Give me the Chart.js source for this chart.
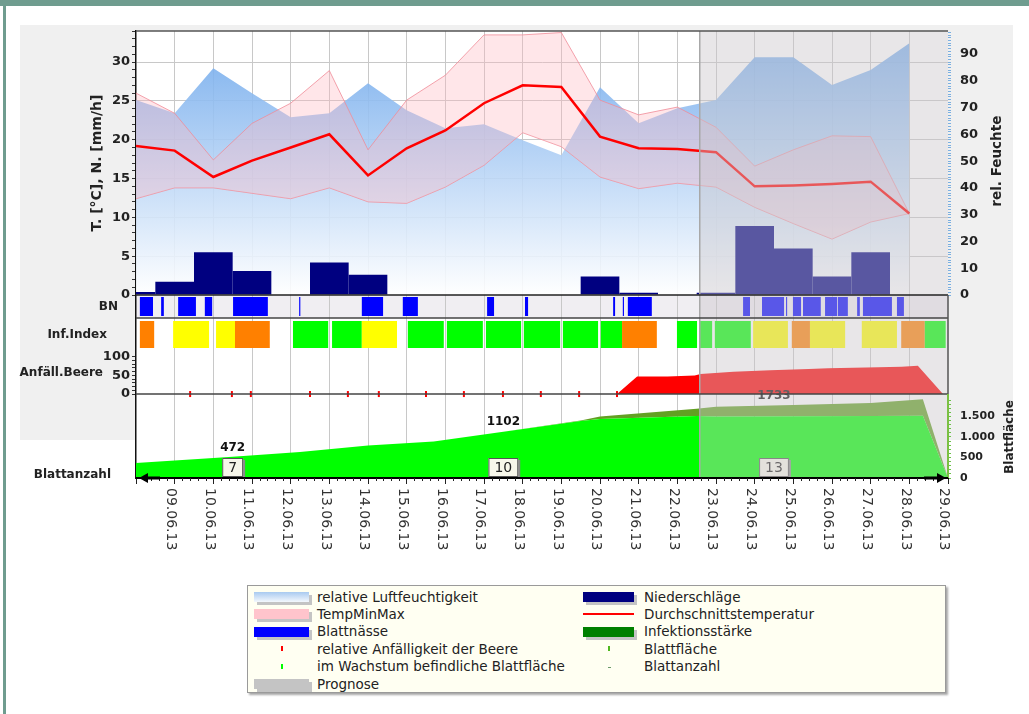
<!DOCTYPE html>
<html lang="de">
<head>
<meta charset="utf-8">
<title>Blattentwicklung Juni 2013</title>
<script src="https://cdn.jsdelivr.net/npm/chart.js@4.4.1/dist/chart.umd.min.js"></script>
<style>
  html, body { margin: 0; padding: 0; background: #fff; }
  body { width: 1029px; height: 714px; position: relative; overflow: hidden; font-family: "DejaVu Sans", sans-serif; }
  .frame-top { position: absolute; left: 0; top: 0; width: 1029px; height: 6px; background: #6f9c8f; }
  .frame-left { position: absolute; left: 3px; top: 0; width: 3px; height: 714px; background: #6f9c8f; }
  .panel { position: absolute; left: 20px; top: 25px; width: 993px; height: 415px; background: #f0f0f0; }
  #wrap { position: absolute; left: 0; top: 0; width: 1029px; height: 580px; }
  #legend { position: absolute; left: 247px; top: 585px; width: 697px; height: 106px; background: #fffff2;
            border: 1px solid #9a9a9a; box-shadow: 2px 2px 2px rgba(0,0,0,0.35); }
  .sw { position: absolute; height: 10px; box-shadow: 3px 3px 0 #c4c4c4; }
  .tx { position: absolute; font-size: 13.5px; line-height: 17px; color: #222; white-space: nowrap; }
</style>
</head>
<body>
<div class="frame-top"></div>
<div class="frame-left"></div>
<div class="panel"></div>
<div id="wrap"><canvas id="chart" width="1029" height="580"></canvas></div>
<div id="legend"></div>
<script>
// Tage: x = 0 ist der 08.06., Beschriftungen ab x = 1
const dateLabels = ['09.06.13', '10.06.13', '11.06.13', '12.06.13', '13.06.13', '14.06.13', '15.06.13',
  '16.06.13', '17.06.13', '18.06.13', '19.06.13', '20.06.13', '21.06.13', '22.06.13', '23.06.13',
  '24.06.13', '25.06.13', '26.06.13', '27.06.13', '28.06.13', '29.06.13'];

// Temperatur [°C]
const tempAvg = [19.2, 18.6, 15.2, 17.3, 19.0, 20.7, 15.4, 18.9, 21.2, 24.7, 27.0, 26.8, 20.4, 18.9, 18.8, 18.4, 14.0, 14.1, 14.3, 14.6, 10.5];
const tempMax = [26.0, 23.4, 17.4, 22.1, 24.7, 28.9, 18.7, 25.1, 28.3, 33.5, 33.5, 33.8, 25.1, 23.2, 24.2, 21.6, 16.6, 18.7, 20.5, 20.4, 10.5];
const tempMin = [12.4, 13.8, 13.8, 13.1, 12.4, 13.8, 12.0, 11.8, 13.9, 16.7, 20.9, 19.1, 15.2, 13.7, 14.4, 13.9, 11.3, 9.2, 7.2, 9.4, 10.5];
// relative Luftfeuchtigkeit [%]
const humidity = [72.8, 67.9, 84.7, 75.4, 66.4, 67.9, 79.1, 69.0, 62.3, 63.8, 57.8, 52.2, 77.6, 64.2, 69.8, 72.8, 88.8, 88.8, 78.4, 84.0, 94.0];
// Niederschlag [mm/h]
const rain = [0.4, 1.7, 5.5, 3.1, 0, 4.2, 2.6, 0, 0, 0, 0, 0, 2.4, 0.3, 0, 0.3, 8.9, 6.0, 2.4, 5.5, 0];

// Blattnässe (Zeiträume in Tagen)
const bnStart = [0.10, 0.65, 1.09, 1.78, 2.51, 4.22, 5.84, 6.90, 9.08, 10.06, 12.34, 12.59, 12.72, 15.70, 16.19, 16.81, 16.99, 17.25, 17.82, 18.15, 18.65, 18.80, 19.68];
const bnEnd   = [0.44, 0.72, 1.55, 1.97, 3.41, 4.25, 6.39, 7.29, 9.26, 10.14, 12.39, 12.62, 13.34, 15.88, 16.76, 16.84, 17.20, 17.71, 18.13, 18.41, 18.72, 19.55, 19.86];

// Infektionsindex (0 = gering, 1 = mittel, 2 = hoch)
const infStart = [0.10, 0.96, 2.07, 2.56, 4.06, 5.07, 5.84, 7.03, 8.04, 9.05, 10.03, 11.04, 12.02, 12.57, 13.99, 14.56, 14.97, 15.96, 16.96, 17.43, 18.77, 19.79, 20.40];
const infEnd   = [0.47, 1.89, 2.56, 3.46, 4.97, 5.84, 6.75, 7.96, 8.97, 9.96, 10.97, 11.95, 12.57, 13.47, 14.51, 14.90, 15.90, 16.86, 17.43, 18.34, 19.68, 20.40, 20.94];
const infLevel = [2, 1, 1, 2, 0, 0, 1, 0, 0, 0, 0, 0, 0, 2, 0, 0, 0, 1, 2, 1, 1, 2, 0];

// Anfälligkeit der Beere [%]
const anfDays   = [12.44, 12.96, 13.75, 14.45, 14.60, 15.45, 16.40, 17.40, 17.90, 19.20, 19.80, 20.22, 20.87];
const anfValues = [0, 47, 47, 50, 54, 60, 64, 67, 69, 72, 73, 76, 0];
const anfMarkDays = [1.40, 2.48, 2.97, 4.50, 5.48, 6.28, 7.50, 8.48, 9.49, 10.47, 11.46, 12.44];

// Blattfläche [cm²]
const leafDays = [0, 2.5, 4.24, 6.0, 7.7, 9.5, 11.5, 12.0, 14.5, 15.0, 17.0, 19.0, 20.35, 21.0];
const leafArea = [366, 520, 634, 795, 893, 1130, 1390, 1440, 1510, 1500, 1505, 1510, 1520, 0];
const leafTop  = [366, 520, 634, 795, 893, 1130, 1400, 1500, 1690, 1735, 1780, 1830, 1920, 0];

// Blattanzahl und Blattfläche je Woche
const leafLabelDays = [2.5, 9.5, 16.5];
const leafLabelValues = [472, 1102, 1733];
const leafCounts = [7, 10, 13];

const forecastStart = 14.58;

const days = tempAvg.map((_, i) => i);
const xy = (xs, ys) => ys.map((v, i) => ({ x: xs[i], y: v }));
const infColors = ['#00ff00', '#ffff00', '#ff8000'];
const FONT = '"DejaVu Sans", sans-serif';

Chart.defaults.font.family = FONT;
Chart.defaults.animation = false;

function range(a, b, step) {
  const out = [];
  for (let v = a; v <= b + 1e-9; v += step) out.push(Math.round(v * 100) / 100);
  return out;
}
function deNum(v) {
  return v >= 1000 ? Math.floor(v / 1000) + '.' + String(v % 1000).padStart(3, '0') : String(v);
}

const decor = {
  id: 'decor',
  // die schmalen Achsen (Anfälligkeit, Blattfläche) teilen sich den Platz mit den Hauptachsen
  afterLayout(chart) {
    const s = chart.scales;
    s.yA.left = s.yT.left;
    s.yA.width = s.yA.right - s.yA.left;
    s.yB.right = s.yH.right;
    s.yB.width = s.yB.right - s.yB.left;
  },
  beforeDraw(chart) {
    const { ctx, chartArea: a, scales } = chart;
    ctx.save();
    ctx.fillStyle = '#ffffff';
    ctx.fillRect(a.left, a.top, a.right - a.left, a.bottom - a.top);
    const y0 = scales.yT.getPixelForValue(0);
    const rowBottom = scales.yR.getPixelForValue(2) + 11.5;
    ctx.fillStyle = '#f0eef2';
    ctx.fillRect(a.left, y0, a.right - a.left, rowBottom - y0);
    ctx.restore();
  },
  afterDatasetsDraw(chart) {
    const { ctx, chartArea: a, scales } = chart;
    const x = scales.x, yB = scales.yB;
    ctx.save();
    // Blattfläche / Blattanzahl
    ctx.textAlign = 'center';
    ctx.textBaseline = 'middle';
    leafLabelDays.forEach((d, i) => {
      const px = x.getPixelForValue(d);
      ctx.font = 'bold 12px ' + FONT;
      ctx.fillStyle = '#111';
      ctx.fillText(String(leafLabelValues[i]), px, yB.getPixelForValue(leafLabelValues[i]) - 11);
      ctx.font = '14px ' + FONT;
      const w = ctx.measureText(String(leafCounts[i])).width + 12;
      const top = yB.getPixelForValue(0) - 20;
      ctx.fillStyle = '#8a8a8a';
      ctx.fillRect(px - w / 2 + 2, top + 2, w, 19);
      ctx.fillStyle = '#f7f7ea';
      ctx.fillRect(px - w / 2, top, w, 19);
      ctx.strokeStyle = '#555';
      ctx.lineWidth = 1;
      ctx.strokeRect(px - w / 2 + 0.5, top + 0.5, w - 1, 18);
      ctx.fillStyle = '#222';
      ctx.fillText(String(leafCounts[i]), px, top + 10);
    });
    // Prognose
    const xf = x.getPixelForValue(forecastStart);
    ctx.fillStyle = 'rgba(203,199,203,0.44)';
    ctx.fillRect(xf, a.top, a.right - xf, a.bottom - a.top);
    ctx.strokeStyle = '#a8a8a8';
    ctx.lineWidth = 1.5;
    ctx.beginPath(); ctx.moveTo(xf, a.top); ctx.lineTo(xf, a.bottom); ctx.stroke();
    // Trennlinien
    const hline = (y, color, w) => {
      ctx.strokeStyle = color; ctx.lineWidth = w;
      ctx.beginPath(); ctx.moveTo(a.left, y); ctx.lineTo(a.right, y); ctx.stroke();
    };
    const y0 = scales.yT.getPixelForValue(0);
    const rowBottom = scales.yR.getPixelForValue(2) + 11.5;
    const ya0 = scales.yA.getPixelForValue(0);
    hline(a.top, '#555', 1.5);
    hline(y0, '#222', 1.5);
    hline(rowBottom, '#444', 1.5);
    hline(ya0, '#444', 1.5);
    ctx.strokeStyle = '#555'; ctx.lineWidth = 1.5;
    ctx.beginPath(); ctx.moveTo(a.right, y0); ctx.lineTo(a.right, ya0); ctx.stroke();
    ctx.strokeStyle = '#7bc043'; ctx.lineWidth = 2;
    ctx.beginPath(); ctx.moveTo(a.right, ya0); ctx.lineTo(a.right, a.bottom); ctx.stroke();
    hline(a.bottom, '#000', 2);
    ctx.restore();
  },
  afterDraw(chart) {
    const { ctx, chartArea: a, scales } = chart;
    const x = scales.x;
    ctx.save();
    // Zwischenstriche auf der Zeitachse
    ctx.strokeStyle = '#222'; ctx.lineWidth = 1;
    range(0, 21, 0.2).forEach(v => {
      if (Math.abs(v - Math.round(v)) < 1e-6) return;
      const px = Math.round(x.getPixelForValue(v)) + 0.5;
      ctx.beginPath(); ctx.moveTo(px, a.bottom); ctx.lineTo(px, a.bottom + 3); ctx.stroke();
    });
    // Pfeile
    ctx.fillStyle = '#000';
    const yb = a.bottom;
    ctx.fillRect(a.left + 10, yb - 1.5, 14, 3);
    ctx.beginPath(); ctx.moveTo(a.left + 3, yb); ctx.lineTo(a.left + 12, yb - 5); ctx.lineTo(a.left + 12, yb + 5); ctx.closePath(); ctx.fill();
    ctx.fillRect(a.right - 24, yb - 1.5, 14, 3);
    ctx.beginPath(); ctx.moveTo(a.right - 2, yb); ctx.lineTo(a.right - 11, yb - 5); ctx.lineTo(a.right - 11, yb + 5); ctx.closePath(); ctx.fill();
    // Datumsbeschriftung
    ctx.font = '14px ' + FONT;
    ctx.fillStyle = '#333';
    ctx.textAlign = 'left';
    ctx.textBaseline = 'middle';
    dateLabels.forEach((lab, i) => {
      ctx.save();
      ctx.translate(x.getPixelForValue(i + 1) - 4, a.bottom + 10);
      ctx.rotate(Math.PI / 2);
      ctx.fillText(lab, 0, 0);
      ctx.restore();
    });
    // Achsentitel
    const vtext = (txt, px, py, font) => {
      ctx.save();
      ctx.translate(px, py); ctx.rotate(-Math.PI / 2);
      ctx.font = font; ctx.fillStyle = '#222'; ctx.textAlign = 'center'; ctx.textBaseline = 'middle';
      ctx.fillText(txt, 0, 0);
      ctx.restore();
    };
    vtext('T. [°C], N. [mm/h]', scales.yT.left + 7, scales.yT.getPixelForValue(17), 'bold 14px ' + FONT);
    vtext('rel. Feuchte', a.right + 49, scales.yH.getPixelForValue(50), 'bold 13.5px ' + FONT);
    vtext('Blattfläche', a.right + 62, scales.yB.getPixelForValue(1000), 'bold 12px ' + FONT);
    // Zeilenbeschriftung
    ctx.font = 'bold 12px ' + FONT;
    ctx.fillStyle = '#222';
    ctx.textAlign = 'right';
    ctx.textBaseline = 'middle';
    ctx.fillText('BN', a.left - 18, scales.yR.getPixelForValue(2));
    ctx.fillText('Inf.Index', a.left - 29, scales.yR.getPixelForValue(1));
    ctx.fillText('Anfäll.Beere', a.left - 33, scales.yA.getPixelForValue(58));
    ctx.fillText('Blattanzahl', a.left - 25, scales.yB.getPixelForValue(0) - 3);
    ctx.restore();
  }
};

const tickFont = { size: 13, weight: 'bold', family: FONT };
const hidden = c => 'rgba(0,0,0,0)';

new Chart(document.getElementById('chart'), {
  type: 'line',
  data: {
    datasets: [
      {
        label: 'Durchschnittstemperatur', data: xy(days, tempAvg), yAxisID: 'yT',
        borderColor: '#ff0000', borderWidth: 2.5, pointRadius: 0, fill: false, tension: 0
      },
      {
        type: 'bar', label: 'Niederschläge', data: xy(days, rain), yAxisID: 'yT',
        backgroundColor: '#000080', categoryPercentage: 1, barPercentage: 1, grouped: false, inflateAmount: 0
      },
      {
        label: 'TempMinMax', data: xy(days, tempMax), yAxisID: 'yT',
        borderColor: 'rgba(240,140,152,0.8)', borderWidth: 1, pointRadius: 0,
        fill: '+1', backgroundColor: 'rgba(255,182,193,0.35)'
      },
      {
        label: 'TempMin', data: xy(days, tempMin), yAxisID: 'yT',
        borderColor: 'rgba(240,140,152,0.8)', borderWidth: 1, pointRadius: 0, fill: false
      },
      {
        label: 'relative Luftfeuchtigkeit', data: xy(days, humidity), yAxisID: 'yH',
        borderWidth: 0, pointRadius: 0, fill: 'origin',
        backgroundColor: (c) => {
          const ch = c.chart, a = ch.chartArea;
          if (!a) return 'rgba(170,200,240,0.85)';
          const g = ch.ctx.createLinearGradient(0, a.top, 0, ch.scales.yH.getPixelForValue(0));
          g.addColorStop(0, 'rgba(105,165,235,0.9)');
          g.addColorStop(1, 'rgba(255,255,255,0.9)');
          return g;
        }
      },
      {
        type: 'bar', label: 'Blattnässe', indexAxis: 'y', xAxisID: 'x2', yAxisID: 'yR',
        data: bnStart.map((s, i) => ({ x: [s, bnEnd[i]], y: 2 })),
        backgroundColor: '#0000ff', barThickness: 19, grouped: false, inflateAmount: 0
      },
      {
        type: 'bar', label: 'Inf.Index', indexAxis: 'y', xAxisID: 'x2', yAxisID: 'yR',
        data: infStart.map((s, i) => ({ x: [s, infEnd[i]], y: 1 })),
        backgroundColor: infLevel.map(l => infColors[l]), barThickness: 27, grouped: false, inflateAmount: 0
      },
      {
        label: 'relative Anfälligkeit der Beere', data: anfMarkDays.map(d => ({ x: d, y: 0 })), yAxisID: 'yA',
        showLine: false, pointStyle: 'line', rotation: 90, pointRadius: 3, borderColor: '#ff0000', borderWidth: 2
      },
      {
        label: 'Anfälligkeit', data: xy(anfDays, anfValues), yAxisID: 'yA',
        fill: 'origin', backgroundColor: '#ff0000', borderWidth: 0, pointRadius: 0
      },
      {
        label: 'Blattfläche', data: xy(leafDays, leafArea), yAxisID: 'yB',
        fill: 'origin', backgroundColor: '#00ff00', borderWidth: 0, pointRadius: 0
      },
      {
        label: 'Infektionsstärke', data: xy(leafDays, leafTop), yAxisID: 'yB',
        fill: '-1', backgroundColor: '#62a022', borderWidth: 0, pointRadius: 0
      }
    ]
  },
  options: {
    responsive: false,
    layout: { padding: { left: 90, top: 31, right: 0, bottom: 0 } },
    plugins: { legend: { display: false }, tooltip: { enabled: false } },
    scales: {
      x: {
        type: 'linear', position: 'bottom', min: 0, max: 21, offset: false,
        afterBuildTicks: s => { s.ticks = range(0, 21, 1).map(v => ({ value: v })); },
        afterFit: s => { s.height = 102; },
        ticks: { display: false, autoSkip: false },
        grid: {
          offset: false, tickLength: 6, tickColor: '#222',
          color: c => (c.tick && c.tick.value >= 1 && c.tick.value <= 20) ? '#c8c8c8' : 'rgba(0,0,0,0)'
        },
        border: { color: '#000', width: 2 }
      },
      x2: { type: 'linear', position: 'bottom', display: false, min: 0, max: 21, offset: false, grid: { offset: false } },
      yT: {
        type: 'linear', position: 'left', weight: 1, min: -23.56, max: 34,
        afterBuildTicks: s => { s.ticks = range(0, 34, 1).map(v => ({ value: v })); },
        afterFit: s => { s.width = 46; },
        ticks: { autoSkip: false, padding: 2, color: '#222', font: tickFont, callback: v => v % 5 === 0 ? v : '' },
        grid: {
          tickLength: 4, tickColor: '#333',
          color: c => (c.tick && c.tick.value > 0 && c.tick.value % 5 === 0) ? '#c8c8c8' : 'rgba(0,0,0,0)'
        },
        border: { display: true, color: '#111', width: 1.5 }
      },
      yA: {
        type: 'linear', position: 'left', weight: 0, min: -225, max: 973,
        afterBuildTicks: s => { s.ticks = range(0, 100, 10).map(v => ({ value: v })); },
        afterFit: s => { s.width = 0; },
        ticks: { autoSkip: false, padding: 2, color: '#222', font: tickFont, callback: v => v % 50 === 0 ? v : '' },
        grid: { drawOnChartArea: false, tickLength: 4, tickColor: '#333', color: hidden },
        border: { display: false }
      },
      yH: {
        type: 'linear', position: 'right', weight: 1, min: -68.3, max: 98.6,
        afterBuildTicks: s => { s.ticks = range(0, 98, 1).map(v => ({ value: v })); },
        afterFit: s => { s.width = 81; },
        ticks: { autoSkip: false, padding: 9, color: '#222', font: tickFont, callback: v => v % 10 === 0 ? v : '' },
        grid: { drawOnChartArea: false, tickLength: 3, tickColor: '#7aaee0', color: hidden },
        border: { display: false }
      },
      yB: {
        type: 'linear', position: 'right', weight: 0, min: 0, max: 10900,
        afterBuildTicks: s => { s.ticks = range(0, 1900, 100).map(v => ({ value: v })); },
        afterFit: s => { s.width = 0; },
        ticks: {
          autoSkip: false, padding: 9, color: '#222', font: { size: 11, weight: 'bold', family: FONT },
          callback: v => v % 500 === 0 ? deNum(v) : ''
        },
        grid: { drawOnChartArea: false, tickLength: 3, tickColor: '#6cc04a', color: hidden },
        border: { display: false }
      },
      yR: { type: 'linear', display: false, min: -4.125, max: 11.839, offset: false, grid: { offset: false } }
    }
  },
  plugins: [decor]
});

// Legende
const legendItems = [
  { col: 0, row: 0, label: 'relative Luftfeuchtigkeit', kind: 'box', color: 'linear-gradient(#a9caf0, #f4f8fd)' },
  { col: 0, row: 1, label: 'TempMinMax', kind: 'box', color: '#ffc4cc' },
  { col: 0, row: 2, label: 'Blattnässe', kind: 'box', color: '#0000ff' },
  { col: 0, row: 3, label: 'relative Anfälligkeit der Beere', kind: 'tick', color: '#ff0000' },
  { col: 0, row: 4, label: 'im Wachstum befindliche Blattfläche', kind: 'tick', color: '#00ff00' },
  { col: 0, row: 5, label: 'Prognose', kind: 'box', color: '#c4c4c4' },
  { col: 1, row: 0, label: 'Niederschläge', kind: 'box', color: '#000080' },
  { col: 1, row: 1, label: 'Durchschnittstemperatur', kind: 'line', color: '#ff0000' },
  { col: 1, row: 2, label: 'Infektionsstärke', kind: 'box', color: '#008000' },
  { col: 1, row: 3, label: 'Blattfläche', kind: 'tick', color: '#4fb820' },
  { col: 1, row: 4, label: 'Blattanzahl', kind: 'dot', color: '#6a9a6a' }
];
const legend = document.getElementById('legend');
legendItems.forEach(it => {
  const swLeft = it.col === 0 ? 6 : 335;
  const swW = it.col === 0 ? 55 : 51;
  const txLeft = it.col === 0 ? 69 : 396;
  const cy = 11 + it.row * 17.4;
  const sw = document.createElement('div');
  sw.className = 'sw';
  if (it.kind === 'box') {
    sw.style.cssText = `left:${swLeft}px;top:${cy - 5}px;width:${swW}px;background:${it.color}`;
  } else if (it.kind === 'line') {
    sw.style.cssText = `left:${swLeft}px;top:${cy - 1}px;width:${swW}px;height:2px;box-shadow:none;background:${it.color}`;
  } else if (it.kind === 'tick') {
    sw.style.cssText = `left:${swLeft + swW / 2 - 1}px;top:${cy - 3}px;width:2px;height:5px;box-shadow:none;background:${it.color}`;
  } else {
    sw.style.cssText = `left:${swLeft + swW / 2 - 1}px;top:${cy}px;width:3px;height:1px;box-shadow:none;background:${it.color}`;
  }
  legend.appendChild(sw);
  const tx = document.createElement('div');
  tx.className = 'tx';
  tx.style.left = txLeft + 'px';
  tx.style.top = (cy - 8.5) + 'px';
  tx.textContent = it.label;
  legend.appendChild(tx);
});
</script>
</body>
</html>
